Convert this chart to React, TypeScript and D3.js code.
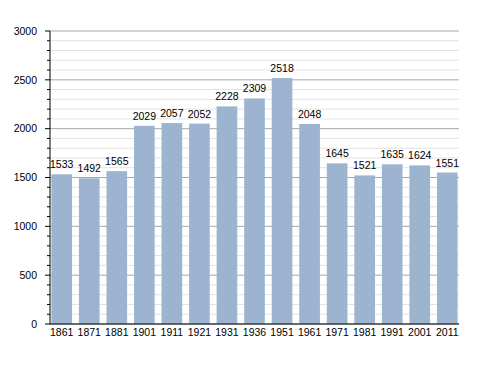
import React from 'react';
import * as d3 from 'd3';

const years = ['1861', '1871', '1881', '1901', '1911', '1921', '1931', '1936', '1951', '1961', '1971', '1981', '1991', '2001', '2011'];
const population = [1533, 1492, 1565, 2029, 2057, 2052, 2228, 2309, 2518, 2048, 1645, 1521, 1635, 1624, 1551];
const majorTicks = [0, 500, 1000, 1500, 2000, 2500, 3000];

const W = 488;
const H = 373;
const margin = { top: 31, right: 29, bottom: 49, left: 50 };

export default function App() {
  const x = d3.scaleBand<string>()
    .domain(years)
    .range([margin.left, W - margin.right])
    .paddingInner(0.25)
    .paddingOuter(0.05);
  const y = d3.scaleLinear().domain([0, 3000]).range([H - margin.bottom, margin.top]);
  const minorTicks = d3.range(0, 3001, 100).filter((v) => v % 500 !== 0);
  const font = 'Liberation Sans, Arial, sans-serif';

  return (
    <svg width={W} height={H} style={{ position: 'absolute', left: 0, top: 0 }} fontFamily={font} fontSize={10.5}>
      <rect width={W} height={H} fill="#fff" />
      {minorTicks.map((v) => (
        <g key={'m' + v}>
          <line x1={margin.left} x2={W - margin.right} y1={y(v)} y2={y(v)} stroke="#e2e2e2" />
          <line x1={margin.left - 3} x2={margin.left} y1={y(v)} y2={y(v)} stroke="#000" />
        </g>
      ))}
      {majorTicks.map((v) => (
        <g key={'M' + v}>
          <line x1={margin.left} x2={W - margin.right} y1={y(v)} y2={y(v)} stroke="#a8a8a8" />
          <line x1={margin.left - 5} x2={margin.left} y1={y(v)} y2={y(v)} stroke="#000" />
          <text x={37} y={y(v)} dy="0.35em" textAnchor="end" fill="#000">{v}</text>
        </g>
      ))}
      {years.map((yr, i) => (
        <g key={yr}>
          <rect x={x(yr)} y={y(population[i])} width={x.bandwidth()} height={y(0) - y(population[i])} fill="#9cb4cf" />
          <text x={(x(yr) as number) + x.bandwidth() / 2} y={y(population[i]) - 6} textAnchor="middle" fill="#000">{population[i]}</text>
          <text x={(x(yr) as number) + x.bandwidth() / 2} y={y(0) + 12} textAnchor="middle" fill="#000">{yr}</text>
        </g>
      ))}
      <line x1={margin.left} x2={margin.left} y1={margin.top} y2={y(0)} stroke="#000" />
      <line x1={margin.left} x2={W - margin.right} y1={y(0)} y2={y(0)} stroke="#000" />
    </svg>
  );
}
